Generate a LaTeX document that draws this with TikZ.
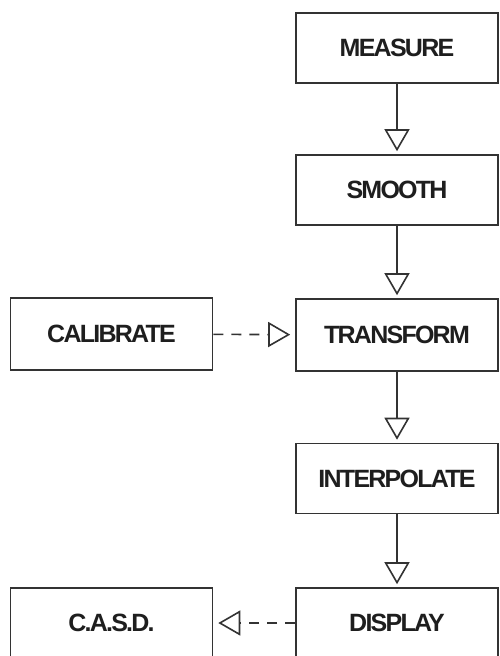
\documentclass[tikz,border=0pt]{standalone}
\usepackage{fontspec}
\setmainfont{Liberation Sans}
\newfontfamily\labfont[LetterSpace=-7]{Liberation Sans}
\usetikzlibrary{arrows.meta}
\definecolor{ink}{HTML}{1E1E1E}
\definecolor{linec}{HTML}{333333}
\begin{document}
\begin{tikzpicture}[x=1pt,y=-1pt,
  boxnode/.style={draw=linec, line width=1.6pt, minimum width=202pt, minimum height=70pt,
    inner sep=0pt, text=ink, font=\labfont\bfseries\fontsize{25}{28}\selectfont},
  flow/.style={draw=linec, line width=1.6pt, -{Triangle[open, length=22pt, width=25pt]}, shorten >=3pt},
  dflow/.style={flow, dash pattern=on 10pt off 8pt, shorten >=5pt}]
\useasboundingbox (0,0) rectangle (499,656);
\fill[white] (0,0) rectangle (499,656);
\node[boxnode] (measure) at (397,48) {MEASURE};
\node[boxnode] (smooth) at (397,190) {SMOOTH};
\node[boxnode, minimum height=72pt] (transform) at (397,335) {TRANSFORM};
\node[boxnode] (interp) at (397,478.5) {INTERPOLATE};
\node[boxnode] (display) at (397,623) {DISPLAY};
\node[boxnode, minimum height=72pt] (calib) at (111.5,334) {CALIBRATE};
\node[boxnode] (casd) at (111.5,623) {C.A.S.D.};
\draw[flow] (measure) -- (smooth);
\draw[flow] (smooth) -- (transform);
\draw[flow] (transform) -- (interp);
\draw[flow] (interp) -- (display);
\draw[dflow] (calib) -- (transform);
\draw[dflow] (display) -- (casd);
\end{tikzpicture}
\end{document}
